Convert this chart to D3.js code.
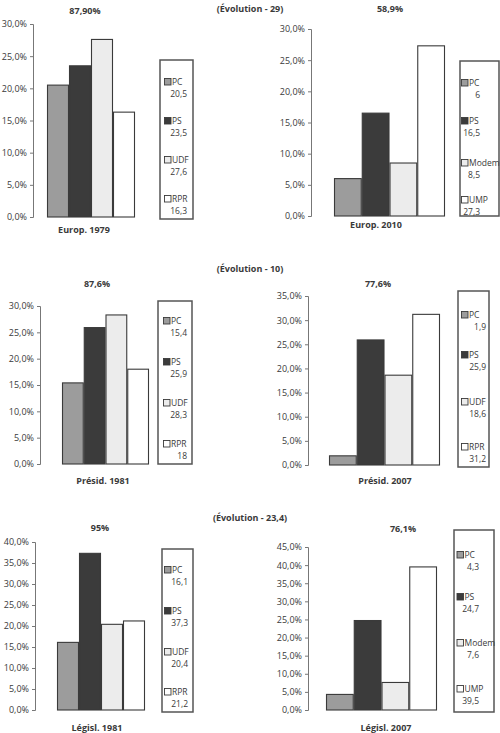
<!DOCTYPE html>
<html><head><meta charset="utf-8">
<script src="https://cdn.jsdelivr.net/npm/d3@7"></script>
<style>body{margin:0;background:#fff}svg{display:block}text{font-family:"Open Sans",sans-serif;fill:#3a3a3a}</style>
</head><body>
<script>
// ---- data ----
const titles = ["87,90%","58,9%","87,6%","77,6%","95%","76,1%"];
const xLabels = ["Europ. 1979","Europ. 2010","Présid. 1981","Présid. 2007","Législ. 1981","Législ. 2007"];
const parties = [["PC","PS","UDF","RPR"],["PC","PS","Modem","UMP"],["PC","PS","UDF","RPR"],["PC","PS","UDF","RPR"],["PC","PS","UDF","RPR"],["PC","PS","Modem","UMP"]];
const values = [[20.5,23.5,27.6,16.3],[6,16.5,8.5,27.3],[15.4,25.9,28.3,18],[1.9,25.9,18.6,31.2],[16.1,37.3,20.4,21.2],[4.3,24.7,7.6,39.5]];
const yMax = [30,30,30,35,40,45];
const evolutions = ["(Évolution - 29)","(Évolution - 10)","(Évolution - 23,4)"];

// ---- styles / layout ----
const fills = ["#9c9c9c","#3b3b3b","#ececec","#ffffff"];
const layout = [
 {ax:33, yT:24, yB:217, b0:47, b1:135, tx:85, ty:14, lx:84, ly:233, L:[160,60,193,219], items:[82,121,160,199], lab:12, val:27},
 {ax:311,yT:29, yB:216, b0:334,b1:445, tx:390,ty:12, lx:376,ly:228, L:[460,61,499,216], items:[83,121,163,200], lab:9, val:20},
 {ax:40, yT:306,yB:464, b0:62, b1:149, tx:97, ty:287,lx:103,ly:484, L:[158,301,192,464], items:[321,362,403,444], lab:13, val:29},
 {ax:308,yT:296,yB:465, b0:329,b1:440, tx:378,ty:287,lx:385,ly:484, L:[458,291,489,467], items:[315,355,402,447], lab:11, val:28},
 {ax:35, yT:542,yB:710, b0:57, b1:145, tx:100,ty:531,lx:97, ly:731, L:[162,549,193,712], items:[570,611,652,692], lab:10, val:26},
 {ax:308,yT:547,yB:710, b0:326,b1:437, tx:403,ty:532,lx:386,ly:731, L:[454,530,494,712], items:[555,597,643,689], lab:10.5, val:25}
];
const evoY = [12,272,521];

const fmt = v => v.toFixed(1).replace('.',',') + '%';
const fmtV = v => String(v).replace('.',',');

const svg = d3.select("body").append("svg").attr("width",500).attr("height",733);

evolutions.forEach((t,i)=>{
  svg.append("text").attr("x",250).attr("y",evoY[i]).attr("text-anchor","middle")
    .attr("font-size",9).attr("font-weight","bold").text(t);
});

layout.forEach((g,i)=>{
  const y = d3.scaleLinear().domain([0,yMax[i]]).range([g.yB,g.yT]);
  const x = d3.scaleBand().domain(parties[i]).range([g.b0,g.b1]).padding(0);
  const G = svg.append("g");

  // axis
  const axis = d3.axisLeft(y).tickValues(d3.range(0,yMax[i]+0.001,5)).tickFormat(fmt).tickSize(3).tickPadding(3);
  const ag = G.append("g").attr("transform",`translate(${g.ax},0)`).call(axis);
  ag.select(".domain").attr("stroke","#777").attr("stroke-width",1);
  ag.selectAll(".tick line").attr("stroke","#777");
  ag.selectAll(".tick text").attr("font-size",9).attr("fill","#3a3a3a").style("font-family","'Open Sans',sans-serif");

  // bars
  G.selectAll("rect.bar").data(values[i]).join("rect").attr("class","bar")
    .attr("x",(d,j)=>x(parties[i][j])+0.5).attr("width",x.bandwidth()-1)
    .attr("y",d=>y(d)).attr("height",d=>g.yB-y(d))
    .attr("fill",(d,j)=>fills[j]).attr("stroke","#3a3a3a").attr("stroke-width",1.1);

  // title & x label
  G.append("text").attr("x",g.tx).attr("y",g.ty).attr("text-anchor","middle")
    .attr("font-size",9).attr("font-weight","bold").text(titles[i]);
  G.append("text").attr("x",g.lx).attr("y",g.ly).attr("text-anchor","middle")
    .attr("font-size",9).attr("font-weight","bold").text(xLabels[i]);

  // legend
  const [x0,y0,x1,y1] = g.L;
  G.append("rect").attr("x",x0).attr("y",y0).attr("width",x1-x0).attr("height",y1-y0)
    .attr("fill","#fff").attr("stroke","#555").attr("stroke-width",1.5);
  parties[i].forEach((p,j)=>{
    const cy = g.items[j];
    G.append("rect").attr("x",x0+g.lab-7.5).attr("y",cy-3.5).attr("width",6.5).attr("height",6.5)
      .attr("fill",fills[j]).attr("stroke","#3a3a3a").attr("stroke-width",0.9);
    G.append("text").attr("x",x0+g.lab).attr("y",cy+3).attr("font-size",8.5).text(p);
    G.append("text").attr("x",x0+g.val).attr("y",cy+15).attr("text-anchor","end").attr("font-size",8.5).text(fmtV(values[i][j]));
  });
});
</script>
</body></html>
